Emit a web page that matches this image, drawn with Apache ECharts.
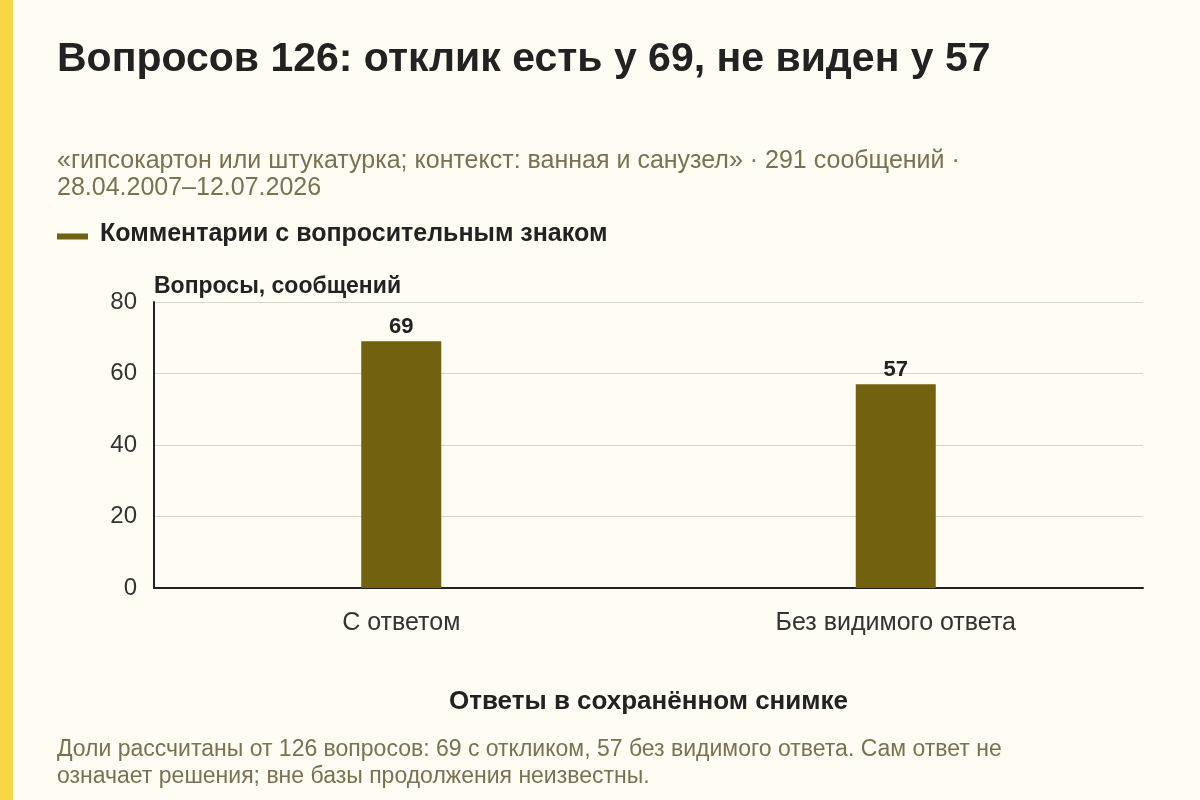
<!DOCTYPE html>
<html>
<head>
<meta charset="utf-8">
<script src="https://cdn.jsdelivr.net/npm/echarts@6/dist/echarts.min.js"></script>
<style>
html, body { margin: 0; padding: 0; background: #fffcf4; }
#main { width: 1200px; height: 800px; }
</style>
</head>
<body>
<div id="main"></div>
<script>
var categories = ['С ответом', 'Без видимого ответа'];
var questions = [69, 57];
var yTicks = [0, 20, 40, 60, 80];
var seriesName = 'Комментарии с вопросительным знаком';

var font = 'Liberation Sans';
var olive = '#72610f';
var chart = echarts.init(document.getElementById('main'));

chart.setOption({
  backgroundColor: '#fffcf4',
  textStyle: { fontFamily: font },
  graphic: [{
    type: 'rect',
    left: 0, top: 0,
    shape: { width: 13, height: 800 },
    style: { fill: '#f8d747' }
  }],
  title: [{
    text: 'Вопросов 126: отклик есть у 69, не виден у 57',
    left: 57, top: 39, padding: 0,
    textStyle: { fontSize: 41, fontWeight: 'bold', color: '#222', fontFamily: font }
  }, {
    text: '«гипсокартон или штукатурка; контекст: ванная и санузел» · 291 сообщений ·\n28.04.2007–12.07.2026',
    left: 57, top: 148, padding: 0,
    textStyle: { fontSize: 25, fontWeight: 'normal', color: '#7a7150', lineHeight: 27, fontFamily: font }
  }, {
    text: 'Доли рассчитаны от 126 вопросов: 69 с откликом, 57 без видимого ответа. Сам ответ не\nозначает решения; вне базы продолжения неизвестны.',
    left: 57, top: 736, padding: 0,
    textStyle: { fontSize: 23, fontWeight: 'normal', color: '#7a7150', lineHeight: 27, fontFamily: font }
  }],
  legend: {
    left: 57, top: 222, padding: 0,
    itemWidth: 31, itemHeight: 14,
    icon: 'path://M0,0 L0.01,0 L0.01,0.01 Z M0,6 L31,6 L31,12 L0,12 Z M0,14 L0.01,14 L0.01,13.99 Z',
    textStyle: { fontSize: 25, fontWeight: 'bold', color: '#222', fontFamily: font, padding: [0, 0, 0, 7] },
    data: [seriesName]
  },
  grid: { left: 154, right: 57, top: 302, bottom: 212, containLabel: false },
  xAxis: {
    type: 'category',
    data: categories,
    name: 'Ответы в сохранённом снимке',
    nameLocation: 'middle',
    nameGap: 101,
    nameTextStyle: { fontSize: 26, fontWeight: 'bold', color: '#222', fontFamily: font },
    axisLine: { lineStyle: { color: '#222', width: 2 } },
    axisTick: { alignWithLabel: true, length: 6, lineStyle: { color: '#222' } },
    axisLabel: { fontSize: 25, color: '#333', margin: 23, fontFamily: font }
  },
  yAxis: {
    type: 'value',
    min: yTicks[0],
    max: yTicks[yTicks.length - 1],
    interval: yTicks[1] - yTicks[0],
    name: 'Вопросы, сообщений',
    nameLocation: 'end',
    nameGap: 4,
    nameTextStyle: { fontSize: 23, fontWeight: 'bold', color: '#222', align: 'left', fontFamily: font },
    axisLine: { show: true, lineStyle: { color: '#222', width: 2 } },
    axisTick: { show: false },
    axisLabel: { fontSize: 24, color: '#333', margin: 17, fontFamily: font },
    splitLine: { lineStyle: { color: '#d6d3cb', width: 1 } }
  },
  series: [{
    name: seriesName,
    type: 'bar',
    data: questions,
    barWidth: 80,
    itemStyle: { color: olive },
    label: {
      show: true,
      position: 'top',
      distance: 3,
      fontSize: 22,
      fontWeight: 'bold',
      color: '#222',
      fontFamily: font
    }
  }]
});
</script>
</body>
</html>
